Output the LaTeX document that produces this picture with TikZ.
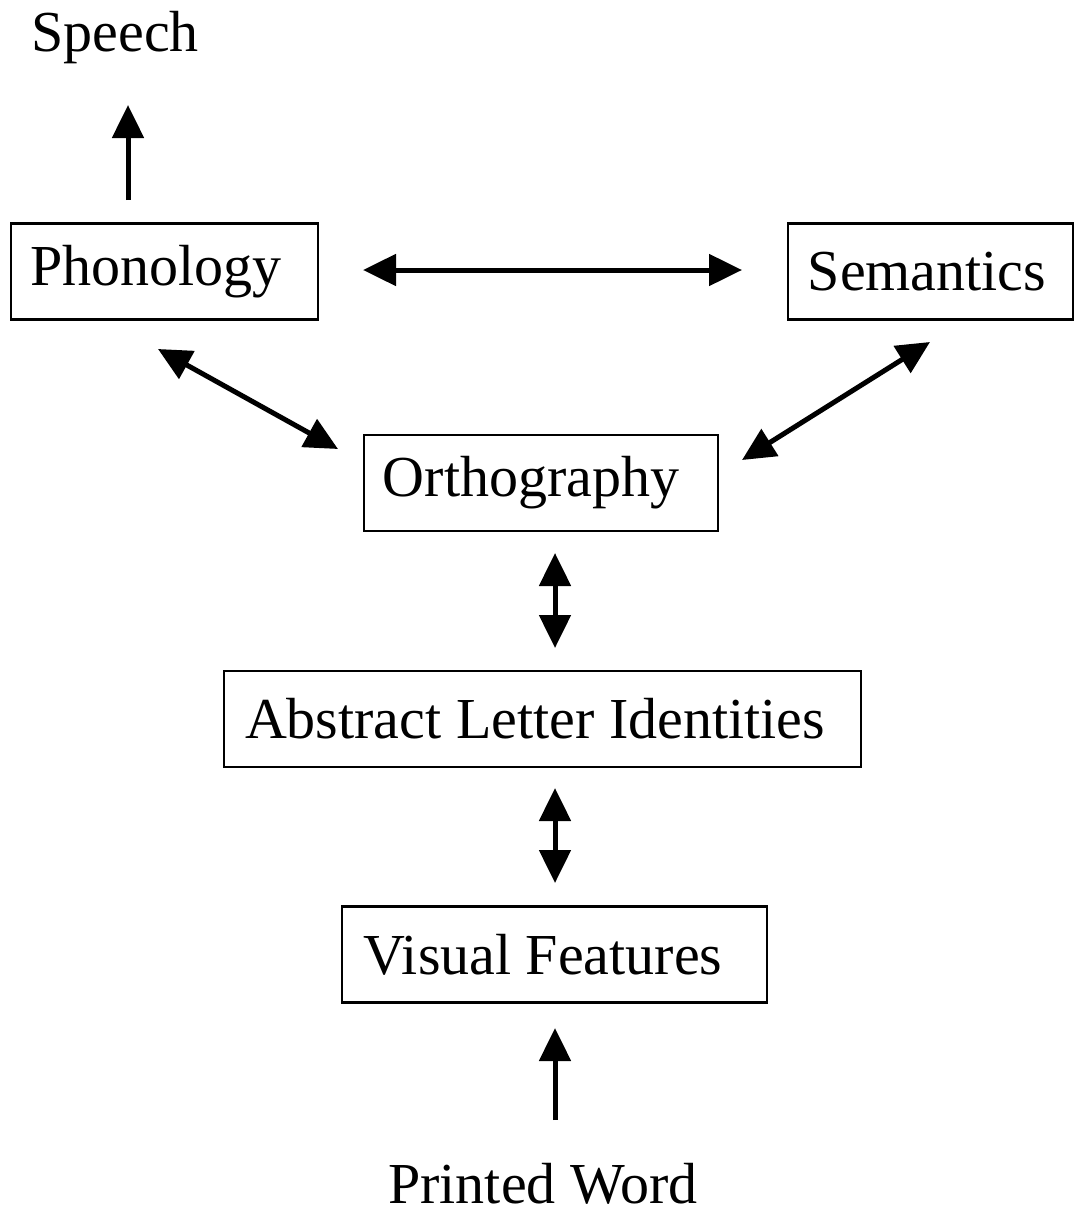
\documentclass[tikz,border=0pt]{standalone}
\usepackage{fontspec}
\setmainfont{Liberation Serif}
\usetikzlibrary{arrows.meta}
\begin{document}
\begin{tikzpicture}[x=1pt,y=-1pt,
  lbl/.style={font=\fontsize{58}{62}\selectfont, inner sep=0pt},
  boxed/.style={draw, line width=2.6pt, minimum height=96pt, inner sep=0pt, font=\fontsize{58}{62}\selectfont},
  tshift/.style={execute at begin node={\hspace*{#1}}},
  conn/.style={line width=5pt, -{Triangle[length=33pt,width=31pt]}},
  biconn/.style={line width=5pt, {Triangle[length=33pt,width=31pt]}-{Triangle[length=33pt,width=31pt]}}]
\useasboundingbox (0,0) rectangle (1075,1215);
\node[lbl, anchor=base] (speech) at (115,52) {Speech};
\node[boxed, minimum width=307pt, tshift=-17pt] (phon) at (164.5,271.5) {Phonology};
\node[boxed, minimum width=285pt, tshift=-7pt] (sem) at (930.5,271.5) {Semantics};
\node[boxed, minimum width=354pt, tshift=-20pt] (orth) at (541,483) {Orthography};
\node[boxed, minimum width=637pt, tshift=-15pt] (ali) at (542.5,719) {Abstract Letter Identities};
\node[boxed, minimum width=425pt, tshift=-23pt] (vf) at (554.5,954.5) {Visual Features};
\node[lbl, anchor=base, text depth=0pt] (pw) at (543,1203) {Printed Word};
% arrow end points
\coordinate (sp1) at (128,200);
\coordinate (sp2) at (128,105);
\coordinate (ps1) at (363,270);
\coordinate (ps2) at (742,270);
\coordinate (po1) at (158,349);
\coordinate (po2) at (338,449);
\coordinate (so1) at (930,342);
\coordinate (so2) at (742,460);
\coordinate (oa1) at (555,553);
\coordinate (oa2) at (555,648);
\coordinate (av1) at (555,788);
\coordinate (av2) at (555,883);
\coordinate (pv1) at (555,1120);
\coordinate (pv2) at (555,1028);
\draw[conn] (sp1) -- (sp2);
\draw[biconn] (ps1) -- (ps2);
\draw[biconn] (po1) -- (po2);
\draw[biconn] (so1) -- (so2);
\draw[biconn] (oa1) -- (oa2);
\draw[biconn] (av1) -- (av2);
\draw[conn] (pv1) -- (pv2);
\end{tikzpicture}
\end{document}
